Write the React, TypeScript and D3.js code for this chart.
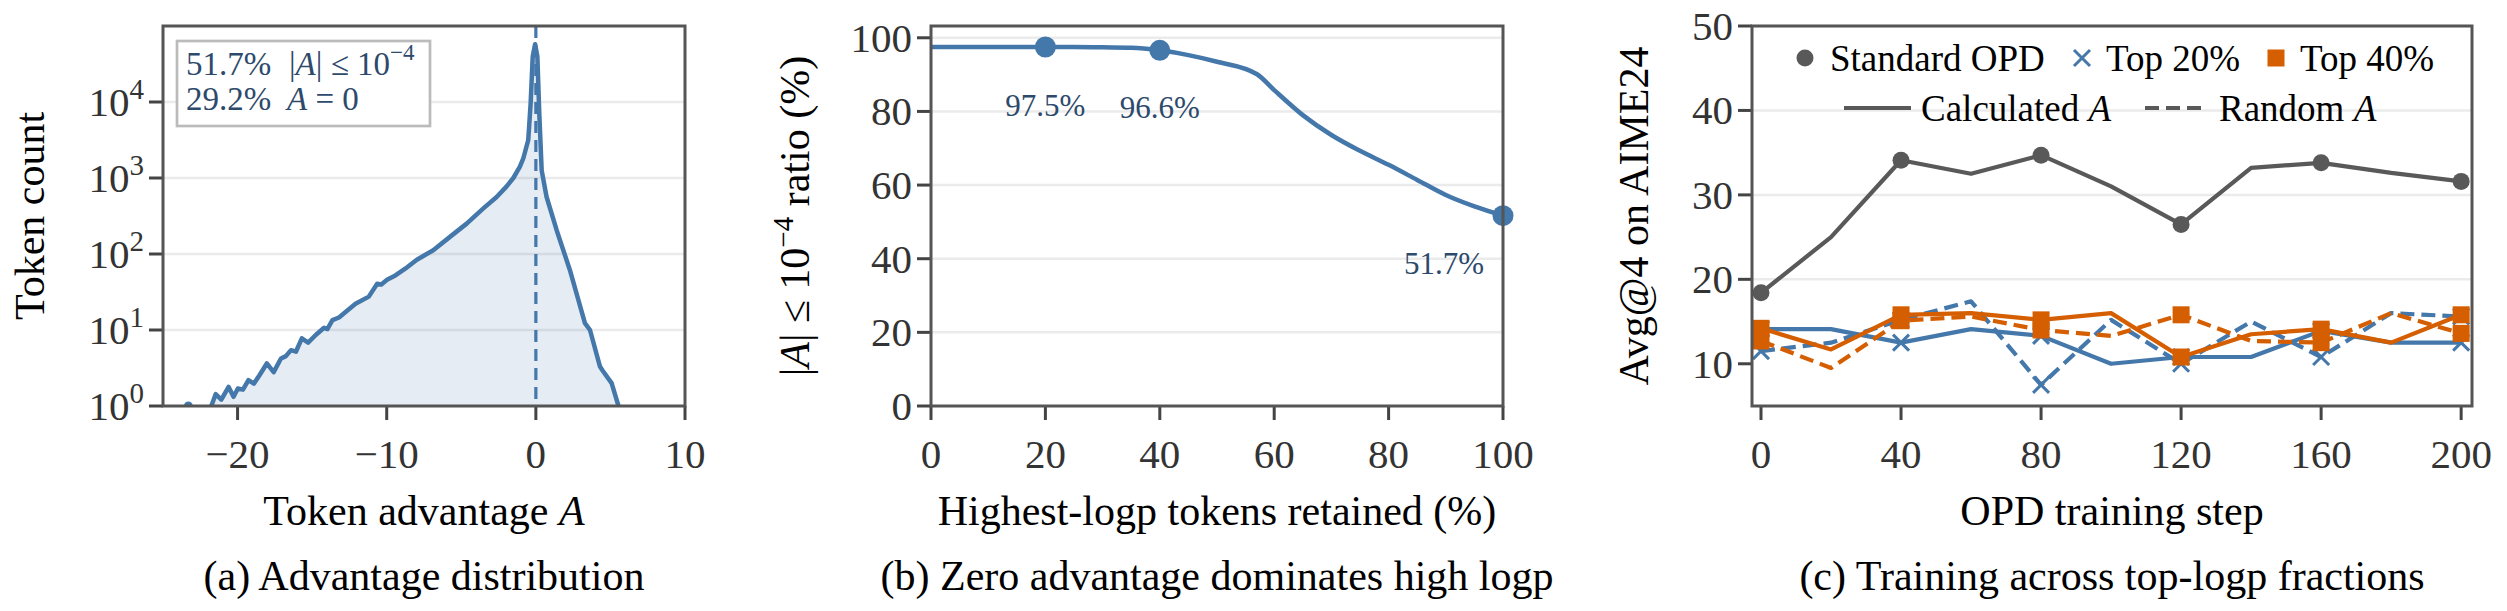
import React from "react";
import * as d3 from "d3";

// (a) advantage distribution, histogram counts
const advX = [-21.76, -21.47, -21.09, -20.6, -20.27, -19.98, -19.64, -19.27, -18.91, -18.53, -18.04, -17.58, -17.09, -16.76, -16.42, -16.09, -15.69, -15.27, -14.76, -14.2, -13.98, -13.64, -13.2, -12.64, -12.09, -11.2, -10.64, -10.36, -9.98, -9.42, -8.76, -7.98, -6.88, -5.76, -4.64, -3.52, -2.63, -1.96, -1.51, -1.07, -0.84, -0.51, -0.35, -0.21, -0.05, 0.1, 0.23, 0.39, 0.72, 1.4, 2.28, 3.29, 3.63, 4.3, 4.46, 5.08, 5.54];
const advCount = [1, 1.43, 1.21, 1.78, 1.32, 1.7, 1.64, 2.19, 1.97, 2.54, 3.63, 2.79, 4.22, 4.53, 5.43, 5.18, 7.76, 6.81, 8.59, 10.7, 10.3, 13.5, 14.6, 18, 22.1, 27.5, 40.6, 39.8, 45.7, 52.2, 64, 84.1, 112, 168, 251, 398, 562, 776, 1000, 1410, 1820, 3160, 9550, 39800, 57500, 39800, 7080, 1260, 562, 204, 61.7, 12.3, 10, 3.3, 2.95, 2, 1];
const isoX = [-23.3];
const isoCount = [1];
const advXTicks = [-20, -10, 0, 10];
const countTicks = [1, 10, 100, 1000, 10000];
const countExp = ["0", "1", "2", "3", "4"];

// (b) zero-advantage ratio vs retained fraction
const keptPct = [0, 5, 10, 15, 20, 25, 30, 35, 40, 45, 50, 57, 60, 65, 70, 75, 80, 85, 90, 95, 100];
const zeroRatio = [97.5, 97.5, 97.5, 97.5, 97.5, 97.5, 97.4, 97.3, 96.6, 95.3, 93.5, 90.1, 85.8, 79.0, 73.6, 69.3, 65.5, 61.4, 57.3, 54.2, 51.7];
const markedPct = [20, 40, 100];
const markedRatio = [97.5, 96.6, 51.7];
const markedLabels = ["97.5%", "96.6%", "51.7%"];
const pctTicks = [0, 20, 40, 60, 80, 100];
const ratioTicks = [0, 20, 40, 60, 80, 100];

// (c) training curves
const steps = [0, 20, 40, 60, 80, 100, 120, 140, 160, 180, 200];
const standardOPD = [18.4, 25.0, 34.1, 32.5, 34.7, 31.0, 26.5, 33.2, 33.8, 32.6, 31.6];
const top20Calc = [14.1, 14.1, 12.5, 14.1, 13.3, 10.0, 10.8, 10.8, 13.9, 12.5, 12.5];
const top20Rand = [11.5, 12.5, 15.2, 17.4, 7.5, 15.2, 10.0, 15.0, 10.8, 16.0, 15.6];
const top40Calc = [14.2, 11.7, 15.8, 16.0, 15.2, 16.0, 10.8, 13.5, 14.1, 12.5, 15.8];
const top40Rand = [12.7, 9.5, 15.1, 15.6, 14.0, 13.3, 15.8, 12.7, 12.5, 16.0, 13.6];
const stepTicks = [0, 40, 80, 120, 160, 200];
const scoreTicks = [10, 20, 30, 40, 50];

const FONT = '"Liberation Serif", "Times New Roman", serif';
const BLUE = "#4477aa";
const ORANGE = "#d55e00";
const GRAY = "#595959";
const SPINE = "#555555";
const TICKC = "#444444";
const TICKTXT = "#333333";
const NOTE = "#2d4a6c";
const GRID = "#ebebeb";

const top = 26, bottom = 406;
const tickFs = 41, labelFs = 42;

const Frame = ({ x0, x1 }: { x0: number; x1: number }) => (
  <rect x={x0} y={top} width={x1 - x0} height={bottom - top} fill="none" stroke={SPINE} strokeWidth={3} />
);

const XTicks = ({ ticks, sx, fmt }: { ticks: number[]; sx: (v: number) => number; fmt: (v: number) => string }) => (
  <g>
    {ticks.map(t => (
      <g key={t}>
        <line x1={sx(t)} x2={sx(t)} y1={bottom} y2={bottom + 14} stroke={TICKC} strokeWidth={3} />
        <text x={sx(t)} y={468} textAnchor="middle" fontSize={tickFs} fill={TICKTXT}>{fmt(t)}</text>
      </g>
    ))}
  </g>
);

const YTicks = ({ ticks, sy, x0, x1 }: { ticks: number[]; sy: (v: number) => number; x0: number; x1: number }) => (
  <g>
    {ticks.map(t => (
      <g key={t}>
        {t !== ticks[0] && <line x1={x0} x2={x1} y1={sy(t)} y2={sy(t)} stroke={GRID} strokeWidth={2.5} />}
        <line x1={x0 - 14} x2={x0} y1={sy(t)} y2={sy(t)} stroke={TICKC} strokeWidth={3} />
        <text x={x0 - 19} y={sy(t) + 14} textAnchor="end" fontSize={tickFs} fill={TICKTXT}>{t}</text>
      </g>
    ))}
  </g>
);

const XMark = ({ x, y, color }: { x: number; y: number; color: string }) => (
  <path d={`M${x - 8},${y - 8}L${x + 8},${y + 8}M${x - 8},${y + 8}L${x + 8},${y - 8}`} stroke={color} strokeWidth={3} fill="none" />
);

export default function App() {
  // ---------- (a)
  const ax0 = 163, ax1 = 685;
  const xA = d3.scaleLinear().domain([-25, 10]).range([ax0, ax1]);
  const yA = d3.scaleLog().domain([1, 1e5]).range([bottom, top]);
  const advPts: [number, number][] = advX.map((x, i) => [x, advCount[i]]);
  const advLine = d3.line<[number, number]>().x(d => xA(d[0])).y(d => yA(d[1]))(advPts) || "";
  const advArea = d3.area<[number, number]>().x(d => xA(d[0])).y0(bottom).y1(d => yA(d[1]))(advPts) || "";

  // ---------- (b)
  const bx0 = 931, bx1 = 1503;
  const xB = d3.scaleLinear().domain([0, 100]).range([bx0, bx1]);
  const yB = d3.scaleLinear().domain([0, 103.2]).range([bottom, top]);
  const ratioLine = d3.line<number>().x((d, i) => xB(keptPct[i])).y(d => yB(d)).curve(d3.curveMonotoneX)(zeroRatio) || "";
  const labelOffset = [[0, 69], [0, 68], [-59, 58]];

  // ---------- (c)
  const cx0 = 1752, cx1 = 2472;
  const xC = d3.scaleLinear().domain([-2.57, 203.1]).range([cx0, cx1]);
  const yC = d3.scaleLinear().domain([5, 50]).range([bottom, top]);
  const lineC = d3.line<number>().x((d, i) => xC(steps[i])).y(d => yC(d));
  const series = [
    { vals: standardOPD, color: GRAY, dash: undefined as string | undefined, mark: "o" },
    { vals: top20Calc, color: BLUE, dash: undefined, mark: "x" },
    { vals: top20Rand, color: BLUE, dash: "14 7", mark: "x" },
    { vals: top40Calc, color: ORANGE, dash: undefined, mark: "s" },
    { vals: top40Rand, color: ORANGE, dash: "14 7", mark: "s" },
  ];
  const marker = (kind: string, x: number, y: number, color: string, key: string) => {
    if (kind === "o") return <circle key={key} cx={x} cy={y} r={8.5} fill={color} />;
    if (kind === "s") return <rect key={key} x={x - 8.5} y={y - 8.5} width={17} height={17} fill={color} />;
    return <XMark key={key} x={x} y={y} color={color} />;
  };

  return (
    <svg width={2507} height={611} style={{ position: "absolute", left: 0, top: 0, background: "#fff" }} fontFamily={FONT}>
      <defs>
        <clipPath id="clipA"><rect x={ax0} y={top} width={ax1 - ax0} height={bottom - top} /></clipPath>
        <clipPath id="clipB"><rect x={bx0} y={top - 15} width={bx1 - bx0 + 15} height={bottom - top + 15} /></clipPath>
        <clipPath id="clipC"><rect x={cx0} y={top} width={cx1 - cx0} height={bottom - top} /></clipPath>
      </defs>
      <rect x={0} y={0} width={2507} height={611} fill="#fff" />

      {/* ===== (a) ===== */}
      <g>
        {countTicks.map((t, i) => (
          <g key={t}>
            {i > 0 && <line x1={ax0} x2={ax1} y1={yA(t)} y2={yA(t)} stroke={GRID} strokeWidth={2.5} />}
            <line x1={ax0 - 14} x2={ax0} y1={yA(t)} y2={yA(t)} stroke={TICKC} strokeWidth={3} />
            <text x={ax0 - 19} y={yA(t) + 14} textAnchor="end" fontSize={tickFs} fill={TICKTXT}>
              10<tspan fontSize={29} dy={-17}>{countExp[i]}</tspan>
            </text>
          </g>
        ))}
        <g clipPath="url(#clipA)">
          <path d={advArea} fill={BLUE} fillOpacity={0.14} />
          <line x1={xA(0)} x2={xA(0)} y1={top} y2={bottom} stroke={BLUE} strokeWidth={3.2} strokeDasharray="12 7" />
          <path d={advLine} fill="none" stroke={BLUE} strokeWidth={4.5} strokeLinejoin="round" strokeLinecap="round" />
          {isoX.map((x, i) => <circle key={i} cx={xA(x)} cy={yA(isoCount[i])} r={4.5} fill={BLUE} />)}
        </g>
        <rect x={177} y={41} width={253} height={85} fill="#fff" stroke="#bbbbbb" strokeWidth={2.7} />
        <g fontSize={33} fill={NOTE}>
          <text x={186} y={75}>51.7%</text>
          <text x={289} y={75}>|<tspan fontStyle="italic">A</tspan>| ≤ 10<tspan fontSize={23} dy={-15}>−4</tspan></text>
          <text x={186} y={110}>29.2%</text>
          <text x={287} y={110}><tspan fontStyle="italic">A</tspan> = 0</text>
        </g>
        <XTicks ticks={advXTicks} sx={xA} fmt={v => (v < 0 ? "−" + Math.abs(v) : String(v))} />
        <Frame x0={ax0} x1={ax1} />
        <text transform={`translate(44,${(top + bottom) / 2}) rotate(-90)`} textAnchor="middle" fontSize={labelFs}>Token count</text>
        <text x={(ax0 + ax1) / 2} y={525} textAnchor="middle" fontSize={labelFs}>Token advantage <tspan fontStyle="italic">A</tspan></text>
        <text x={(ax0 + ax1) / 2} y={590} textAnchor="middle" fontSize={labelFs}>(a) Advantage distribution</text>
      </g>

      {/* ===== (b) ===== */}
      <g>
        <YTicks ticks={ratioTicks} sy={yB} x0={bx0} x1={bx1} />
        <g clipPath="url(#clipB)">
          <path d={ratioLine} fill="none" stroke={BLUE} strokeWidth={4.5} strokeLinejoin="round" />
          {markedPct.map((p, i) => <circle key={p} cx={xB(p)} cy={yB(markedRatio[i])} r={10.5} fill={BLUE} />)}
        </g>
        {markedPct.map((p, i) => (
          <text key={p} x={xB(p) + labelOffset[i][0]} y={yB(markedRatio[i]) + labelOffset[i][1]} textAnchor="middle" fontSize={31} fill={NOTE}>{markedLabels[i]}</text>
        ))}
        <XTicks ticks={pctTicks} sx={xB} fmt={v => String(v)} />
        <Frame x0={bx0} x1={bx1} />
        <text transform={`translate(809,${(top + bottom) / 2}) rotate(-90)`} textAnchor="middle" fontSize={labelFs}>
          |<tspan fontStyle="italic">A</tspan>| ≤ 10<tspan fontSize={29} dy={-16}>−4</tspan><tspan dy={16}> ratio (%)</tspan>
        </text>
        <text x={(bx0 + bx1) / 2} y={525} textAnchor="middle" fontSize={labelFs}>Highest-logp tokens retained (%)</text>
        <text x={(bx0 + bx1) / 2} y={590} textAnchor="middle" fontSize={labelFs}>(b) Zero advantage dominates high logp</text>
      </g>

      {/* ===== (c) ===== */}
      <g>
        <YTicks ticks={scoreTicks} sy={yC} x0={cx0} x1={cx1} />
        <g clipPath="url(#clipC)">
          {series.map((s, si) => (
            <g key={si}>
              <path d={lineC(s.vals) || ""} fill="none" stroke={s.color} strokeWidth={4.2} strokeDasharray={s.dash} strokeLinejoin="round" />
              {s.vals.map((v, i) => (i % 2 === 0 ? marker(s.mark, xC(steps[i]), yC(v), s.color, `${si}-${i}`) : null))}
            </g>
          ))}
        </g>
        {/* legend */}
        <g fontSize={37}>
          {marker("o", 1805, 58, GRAY, "lo")}
          <text x={1830} y={71}>Standard OPD</text>
          {marker("x", 2082, 58, BLUE, "lx")}
          <text x={2106} y={71}>Top 20%</text>
          {marker("s", 2276, 58, ORANGE, "ls")}
          <text x={2300} y={71}>Top 40%</text>
          <line x1={1844} x2={1911} y1={108} y2={108} stroke={GRAY} strokeWidth={4.2} />
          <text x={1921} y={121}>Calculated <tspan fontStyle="italic">A</tspan></text>
          <line x1={2145} x2={2207} y1={108} y2={108} stroke={GRAY} strokeWidth={4.2} strokeDasharray="14 7" />
          <text x={2219} y={121}>Random <tspan fontStyle="italic">A</tspan></text>
        </g>
        <XTicks ticks={stepTicks} sx={xC} fmt={v => String(v)} />
        <Frame x0={cx0} x1={cx1} />
        <text transform={`translate(1648,${(top + bottom) / 2}) rotate(-90)`} textAnchor="middle" fontSize={labelFs}>Avg@4 on AIME24</text>
        <text x={(cx0 + cx1) / 2} y={525} textAnchor="middle" fontSize={labelFs}>OPD training step</text>
        <text x={(cx0 + cx1) / 2} y={590} textAnchor="middle" fontSize={labelFs}>(c) Training across top-logp fractions</text>
      </g>
    </svg>
  );
}
